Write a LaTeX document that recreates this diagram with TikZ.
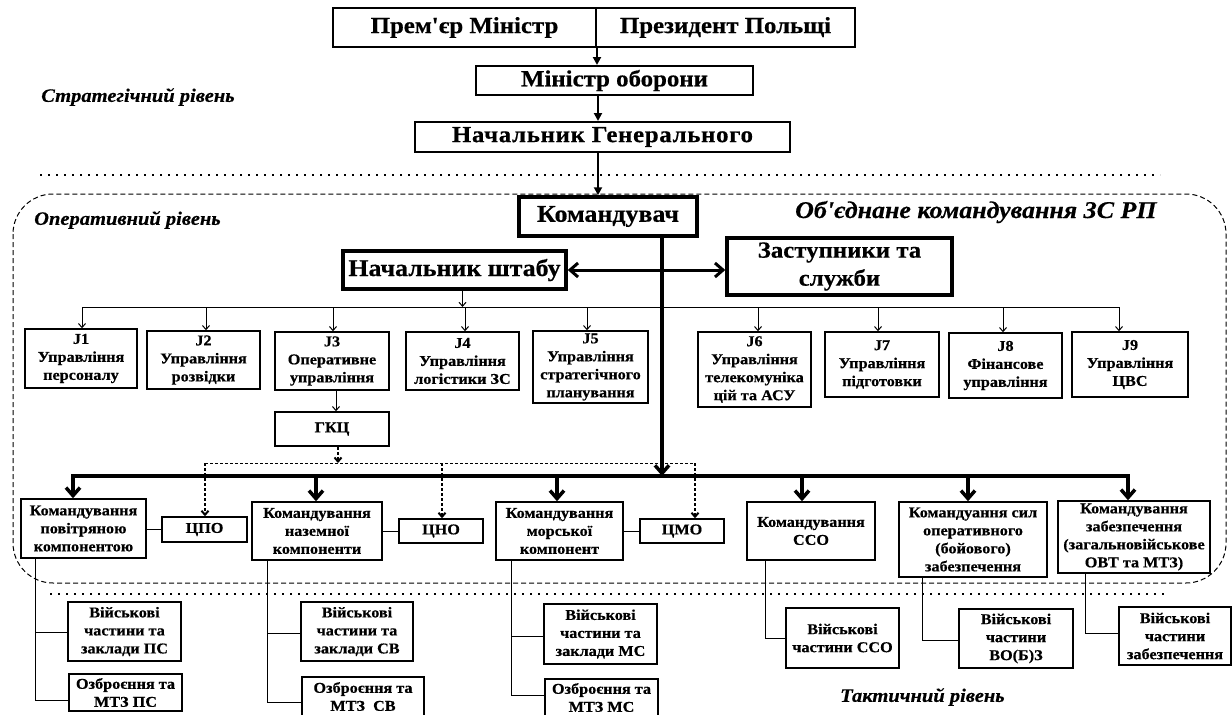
\documentclass[tikz,border=0pt]{standalone}
\usepackage{fontspec}
\setmainfont{Liberation Serif}[Ligatures=TeXOff, FakeStretch=1.08, BoldFeatures={FakeBold=0.5}, BoldItalicFeatures={FakeBold=0.4}]
\usetikzlibrary{arrows.meta}
\newcommand{\mybox}[7]{\node[#6, minimum width={#4pt-#2pt}, minimum height={#5pt-#3pt}] (#1) at ({(#2+#4)/2},{(#3+#5)/2}) {#7};}
\begin{document}
\begin{tikzpicture}[x=1pt,y=-1pt,
  base/.style={draw, line width=1.5pt, inner sep=1pt, align=center},
  jbox/.style={base, font=\bfseries\fontsize{15}{18}\selectfont},
  cbox/.style={base, font=\bfseries\fontsize{15}{18}\selectfont},
  topbox/.style={base, line width=2pt, font=\bfseries\fontsize{23}{27}\selectfont},
  midbox/.style={base, line width=2pt, font=\bfseries\fontsize{23}{27}\selectfont},
  bigbox/.style={base, line width=3.5pt, font=\bfseries\fontsize{24}{28}\selectfont},
  lvl/.style={font=\bfseries\itshape\fontsize{19}{22}\selectfont, anchor=west, inner sep=0pt},
  thinln/.style={line width=1pt},
  thinarr/.style={line width=1pt, -{Straight Barb[length=4pt,width=7pt]}},
  thickarr/.style={line width=3.5pt, -{Straight Barb[length=8pt,width=14pt]}},
  dblarr/.style={line width=3pt, {Straight Barb[length=8pt,width=14pt]}-{Straight Barb[length=8pt,width=14pt]}},
  toparr/.style={line width=2.5pt, -{Triangle[length=8pt,width=8pt]}},
  dasharr/.style={line width=2pt, dash pattern=on 3pt off 2pt, -{Straight Barb[length=4pt,width=7pt]}},
  dashln/.style={line width=1pt, dash pattern=on 3pt off 2pt},
  dotln/.style={line width=2pt, dash pattern=on 2pt off 6pt},
  region/.style={line width=1pt, dash pattern=on 5pt off 3pt, rounded corners=40pt}
]
\useasboundingbox (0,0) rectangle (1232,715);

% region and level lines
\draw[region] (13,194) rectangle (1226,583);
\draw[dotln] (40,175) -- (1160,175);
\draw[dotln] (50,594) -- (1167,594);

\node[lvl] (lstr) at (41,97) {Стратегічний рівень};
\node[lvl] (lop) at (34,220) {Оперативний рівень};
\node[lvl, font=\bfseries\itshape\fontsize{24}{28}\selectfont] (lunit) at (795,212) {Об'єднане командування ЗС РП};
\node[lvl] (ltac) at (840,697) {Тактичний рівень};

% strategic level
\mybox{PM}{333}{8}{596}{47}{topbox}{Прем'єр Міністр}
\mybox{Pres}{596}{8}{855}{47}{topbox}{Президент Польщі}
\mybox{MO}{476}{66}{753}{95}{midbox}{Міністр оборони}
\mybox{NG}{415}{122}{790}{152}{midbox}{\addfontfeature{LetterSpace=3}Начальник Генерального}

% operational level
\mybox{Cmd}{519}{197}{697}{236}{bigbox}{Командувач}
\mybox{NSh}{343}{251}{566}{289}{bigbox}{Начальник штабу}
\mybox{Zas}{727}{238}{952}{295}{bigbox, font=\bfseries\fontsize{23}{28}\selectfont}{Заступники та\\служби}

\mybox{J1}{25}{329}{137}{388}{jbox}{J1\\Управління\\персоналу}
\mybox{J2}{147}{331}{260}{389}{jbox}{J2\\Управління\\розвідки}
\mybox{J3}{275}{332}{389}{390}{jbox}{J3\\Оперативне\\управління}
\mybox{J4}{406}{332}{519}{390}{jbox}{J4\\Управління\\логістики ЗС}
\mybox{J5}{533}{331}{648}{403}{jbox}{J5\\Управління\\стратегічного\\планування}
\mybox{J6}{698}{332}{811}{407}{jbox}{J6\\Управління\\телекомуніка\\цій та АСУ}
\mybox{J7}{825}{332}{939}{397}{jbox}{J7\\Управління\\підготовки}
\mybox{J8}{949}{333}{1062}{398}{jbox}{J8\\Фінансове\\управління}
\mybox{J9}{1072}{332}{1188}{397}{jbox}{J9\\Управління\\ЦВС}
\mybox{GKC}{275}{412}{389}{446}{jbox}{ГКЦ}

\mybox{KPK}{21}{499}{146}{558}{cbox}{Командування\\повітряною\\компонентою}
\mybox{CPO}{162}{517}{247}{542}{cbox}{ЦПО}
\mybox{KNK}{252}{502}{382}{560}{cbox}{Командування\\наземної\\компоненти}
\mybox{CNO}{399}{519}{483}{543}{cbox}{ЦНО}
\mybox{KMK}{496}{502}{623}{560}{cbox}{Командування\\морської\\компонент}
\mybox{CMO}{640}{519}{724}{543}{cbox}{ЦМО}
\mybox{SSO}{747}{502}{875}{560}{cbox}{Командування\\ССО}
\mybox{KSOBZ}{899}{502}{1047}{577}{cbox}{Командуання сил\\оперативного\\(бойового)\\забезпечення}
\mybox{KZ}{1058}{501}{1210}{573}{cbox}{Командування\\забезпечення\\(загальновійськове\\ОВТ та МТЗ)}

% tactical level
\mybox{VchPS}{68}{602}{181}{661}{cbox}{Військові\\частини та\\заклади ПС}
\mybox{OzPS}{69}{674}{182}{711}{cbox}{Озброєння та\\МТЗ ПС}
\mybox{VchSV}{301}{602}{413}{661}{cbox}{Військові\\частини та\\заклади СВ}
\mybox{OzSV}{302}{677}{424}{716}{cbox}{Озброєння та\\МТЗ~~СВ}
\mybox{VchMS}{544}{604}{657}{664}{cbox}{Військові\\частини та\\заклади МС}
\mybox{OzMS}{545}{679}{658}{716}{cbox}{Озброєння та\\МТЗ МС}
\mybox{VchSSO}{786}{608}{899}{668}{cbox}{Військові\\частини ССО}
\mybox{VchVOBZ}{959}{609}{1073}{668}{cbox}{Військові\\частини\\ВО(Б)З}
\mybox{VchZab}{1119}{607}{1231}{665}{cbox}{Військові\\частини\\забезпечення}

% coordinates of buses
\coordinate (ax) at (598,0);
\coordinate (cmdx) at (662,0);
\coordinate (jb) at (0,307);
\coordinate (tb1) at (73,476);
\coordinate (tb2) at (1128,476);
\coordinate (db1) at (205,463);
\coordinate (db3) at (695,463);

% strategic arrows
\draw[toparr] (PM.south east) -- (PM.south east |- MO.north);
\draw[toparr] (MO.south -| ax) -- (ax |- NG.north);
\draw[toparr] (NG.south -| ax) -- (ax |- Cmd.north);

% commander
\draw[dblarr] (NSh.east) -- (Zas.west |- NSh.east);
\draw[thickarr] (Cmd.south -| cmdx) -- (cmdx |- tb1);

% J bus
\draw[thinln] (82,307) -- (1119,307);
\draw[thinarr] ([xshift=8pt]NSh.south) -- ([xshift=8pt]NSh.south |- jb);
\foreach \n/\x in {J1/82,J2/206,J3/333,J4/465,J5/587,J6/758,J7/878,J8/1003,J9/1119}
  \draw[thinarr] (\x,307) -- (\x,307 |- \n.north);
\draw[thinarr] ([xshift=4pt]J3.south) -- ([xshift=4pt]GKC.north);

% dashed links
\draw[dashln] (db1) -- (db3);
\draw[dasharr] ([xshift=6pt]GKC.south) -- ([xshift=6pt]GKC.south |- db1);
\draw[dasharr] (db1) -- (db1 |- CPO.north);
\draw[dasharr] (442,463) -- (442,463 |- CNO.north);
\draw[dasharr] (db3) -- (db3 |- CMO.north);

% thick bus
\draw[line width=3.5pt, line join=miter, {Straight Barb[length=8pt,width=14pt]}-{Straight Barb[length=8pt,width=14pt]}]
  (tb1 |- KPK.north) -- (tb1) -- (tb2) -- (tb2 |- KZ.north);
\draw[thickarr] (316,476) -- (316,476 |- KNK.north);
\draw[thickarr] (557,476) -- (557,476 |- KMK.north);
\draw[thickarr] (802,476) -- (802,476 |- SSO.north);
\draw[thickarr] (968,476) -- (968,476 |- KSOBZ.north);

% side links
\draw[thinln] (KPK.east |- CPO.west) -- (CPO.west);
\draw[thinln] (KNK.east |- CNO.west) -- (CNO.west);
\draw[thinln] (KMK.east |- CMO.west) -- (CMO.west);

% tactical links
\draw[thinln] (35,0 |- KPK.south) -- (35,700) -- (35,700 -| OzPS.west);
\draw[thinln] (35,632) -- (35,632 -| VchPS.west);
\draw[thinln] (267,0 |- KNK.south) -- (267,702) -- (267,702 -| OzSV.west);
\draw[thinln] (267,633) -- (267,633 -| VchSV.west);
\draw[thinln] (511,0 |- KMK.south) -- (511,695) -- (511,695 -| OzMS.west);
\draw[thinln] (511,636) -- (511,636 -| VchMS.west);
\draw[thinln] (765,0 |- SSO.south) -- (765,638) -- (765,638 -| VchSSO.west);
\draw[thinln] (922,0 |- KSOBZ.south) -- (922,640) -- (922,640 -| VchVOBZ.west);
\draw[thinln] (1085,0 |- KZ.south) -- (1085,633) -- (1085,633 -| VchZab.west);
\end{tikzpicture}
\end{document}
